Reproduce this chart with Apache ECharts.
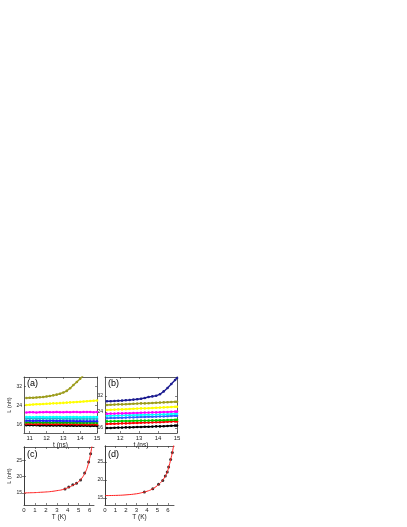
<!DOCTYPE html>
<html><head><meta charset="utf-8">
<script src="https://cdn.jsdelivr.net/npm/echarts@6/dist/echarts.min.js"></script>
<style>html,body{margin:0;padding:0;background:#fff}#c{width:407px;height:527px}</style>
</head><body><div id="c"></div>
<script>
// ---- data ----
const tA = [10.8,11.0,11.2,11.4,11.6,11.8,12.0,12.2,12.4,12.6,12.8,13.0,13.2,13.4,13.6,13.8,14.0,14.2,14.4,14.6,14.8,15.0];
const aOlive   = [27.2,27.3,27.3,27.4,27.5,27.6,27.8,28.0,28.3,28.6,29.0,29.5,30.2,31.3,32.7,34.0,35.4,36.9];
const aYellow  = [24.2,24.3,24.4,24.5,24.5,24.6,24.7,24.8,24.9,24.9,25.0,25.1,25.2,25.3,25.4,25.5,25.6,25.7,25.8,25.9,26.0,26.1];
const aMagenta = [21.0,21.1,21.1,21.0,21.1,21.1,21.2,21.1,21.1,21.2,21.1,21.1,21.2,21.1,21.2,21.2,21.1,21.2,21.2,21.2,21.1,21.2];
const aCyan    = [19.1,19.1,19.0,19.1,19.1,19.1,19.0,19.1,19.1,19.1,19.1,19.0,19.1,19.1,19.1,19.1,19.0,19.1,19.1,19.1,19.1,19.1];
const aTeal    = [18.4,18.4,18.4,18.3,18.4,18.4,18.4,18.3,18.4,18.4,18.4,18.3,18.4,18.3,18.3,18.4,18.3,18.3,18.3,18.3,18.3,18.3];
const aBlue    = [17.5,17.5,17.4,17.5,17.5,17.5,17.4,17.5,17.5,17.4,17.5,17.4,17.4,17.4,17.4,17.3,17.4,17.3,17.3,17.3,17.3,17.3];
const aGreen   = [16.8,16.8,16.7,16.8,16.8,16.7,16.8,16.7,16.7,16.8,16.7,16.7,16.7,16.7,16.6,16.7,16.6,16.6,16.6,16.6,16.6,16.6];
const aRed     = [16.1,16.1,16.1,16.0,16.1,16.1,16.0,16.1,16.0,16.0,16.1,16.0,16.0,16.0,16.0,15.9,16.0,15.9,15.9,15.9,15.9,15.9];
const aBlack   = [15.6,15.6,15.6,15.6,15.5,15.6,15.5,15.5,15.5,15.5,15.5,15.5,15.4,15.5,15.4,15.4,15.4,15.4,15.4,15.3,15.4,15.3];

const tB = [11.3,11.5,11.7,11.9,12.1,12.3,12.5,12.7,12.9,13.1,13.3,13.5,13.7,13.9,14.1,14.3,14.5,14.7,14.9,15.0];
const bNavy    = [29.4,29.4,29.5,29.6,29.7,29.9,30.0,30.2,30.4,30.6,31.0,31.5,31.8,32.1,32.9,34.3,36.0,38.0,40.0,41.0];
const bOlive   = [27.5,27.6,27.7,27.8,27.8,27.9,28.0,28.1,28.2,28.3,28.3,28.4,28.5,28.6,28.7,28.8,28.9,29.0,29.1,29.1];
const bYellow  = [25.0,25.1,25.2,25.3,25.3,25.4,25.5,25.6,25.7,25.8,25.8,25.9,26.0,26.1,26.2,26.3,26.4,26.5,26.6,26.6];
const bMagenta = [23.1,23.2,23.2,23.3,23.3,23.4,23.4,23.5,23.5,23.6,23.7,23.7,23.8,23.8,23.9,24.0,24.0,24.1,24.2,24.2];
const bCyan    = [22.1,22.1,22.2,22.2,22.3,22.3,22.4,22.4,22.5,22.5,22.6,22.6,22.7,22.7,22.8,22.8,22.9,23.0,23.1,23.1];
const bBlue    = [20.9,21.0,21.0,21.1,21.1,21.2,21.3,21.3,21.4,21.5,21.5,21.6,21.6,21.7,21.8,21.8,21.9,22.0,22.1,22.1];
const bGreen   = [19.3,19.3,19.4,19.4,19.5,19.5,19.5,19.6,19.6,19.7,19.7,19.7,19.8,19.8,19.9,19.9,20.0,20.0,20.1,20.1];
const bRed     = [18.0,18.1,18.1,18.2,18.3,18.3,18.4,18.5,18.5,18.6,18.7,18.7,18.8,18.9,18.9,19.0,19.1,19.2,19.3,19.3];
const bBlack   = [16.0,16.0,16.1,16.2,16.2,16.3,16.3,16.4,16.5,16.5,16.6,16.6,16.7,16.8,16.8,16.9,17.0,17.1,17.2,17.2];

const cCurveT = [0,0.5,1,1.5,2,2.5,3,3.5,4,4.5,5,5.3,5.6,5.8,6.0,6.1,6.2,6.3];
const cCurveL = [15.0,15.05,15.1,15.2,15.3,15.45,15.7,16.0,16.6,17.4,18.5,19.6,21.3,23.0,25.6,27.2,29.2,31.5];
const cPtsT = [3.75,4.09,4.46,4.8,5.17,5.54,5.91,6.09];
const cPtsL = [16.2,16.8,17.5,18.0,19.0,21.1,24.5,27.0];

const dCurveT = [0,1,2,3,3.5,4,4.5,5,5.3,5.6,5.9,6.1,6.3,6.45,6.6];
const dCurveL = [15.7,15.75,15.9,16.2,16.5,16.9,17.5,18.5,19.3,20.4,22.0,23.9,26.2,28.2,30.6];
const dPtsT = [3.75,4.55,5.1,5.5,5.74,5.93,6.06,6.25,6.41];
const dPtsL = [16.7,17.6,18.8,19.9,21.1,22.2,23.6,25.7,27.6];

const xTicksA = [11,12,13,14,15];
const xTicksB = [12,13,14,15];
const yTicksAB = [16,24,32];
const xTicksCD = [0,1,2,3,4,5,6];
const yTicksCD = [15,20,25];

// ---- build ----
const FONT = 'Liberation Sans, Arial, sans-serif';
const zip = (xs, ys) => ys.map((y, i) => [xs[i], y]);
const grids = [
  {left:24, top:377, width:73, height:56},
  {left:105, top:377, width:72, height:56},
  {left:24, top:447, width:70, height:58},
  {left:105, top:446, width:69, height:59}
];
const axCol = '#333';
const onlyTicks = ticks => v => (ticks.some(t => Math.abs(t - v) < 1e-6) ? String(v) : '');
function xAx(gi, min, max, ticks, name) {
  return [{
    type:'value', gridIndex:gi, min, max, position:'bottom',
    splitLine:{show:false},
    axisLine:{lineStyle:{color:axCol, width:0.8}},
    axisTick:{inside:true, length:2, customValues:ticks, lineStyle:{color:axCol, width:0.6}},
    axisLabel:{customValues:ticks, formatter:onlyTicks(ticks), showMinLabel:true, showMaxLabel:true,
      fontSize:6, color:'#222', margin:2, fontFamily:FONT},
    name, nameLocation:'middle', nameGap:9, nameTextStyle:{fontSize:6.5, color:'#222', fontFamily:FONT}
  },{
    type:'value', gridIndex:gi, min, max, position:'top',
    splitLine:{show:false},
    axisLine:{lineStyle:{color:axCol, width:0.8}},
    axisTick:{inside:true, length:2, customValues:ticks, lineStyle:{color:axCol, width:0.6}},
    axisLabel:{show:false}
  }];
}
function yAx(gi, min, max, ticks, name) {
  return [{
    type:'value', gridIndex:gi, min, max, position:'left',
    splitLine:{show:false},
    axisLine:{show:true, lineStyle:{color:axCol, width:0.8}},
    axisTick:{show:true, inside:true, length:2, customValues:ticks, lineStyle:{color:axCol, width:0.6}},
    axisLabel:{customValues:ticks, formatter:onlyTicks(ticks), fontSize:5, color:'#222', margin:2, fontFamily:FONT},
    name, nameLocation:'middle', nameGap:10, nameRotate:90, nameTextStyle:{fontSize:5.5, color:'#222', fontFamily:FONT}
  },{
    type:'value', gridIndex:gi, min, max, position:'right',
    splitLine:{show:false},
    axisLine:{show:true, lineStyle:{color:axCol, width:0.8}},
    axisTick:{show:true, inside:true, length:2, customValues:ticks, lineStyle:{color:axCol, width:0.6}},
    axisLabel:{show:false}
  }];
}
const xAxis = [].concat(
  xAx(0, 10.66, 15, xTicksA, 't (ns)'),
  xAx(1, 11.2, 15, xTicksB, 't (ns)'),
  xAx(2, 0, 6.4, xTicksCD, 'T (K)'),
  xAx(3, 0, 6.57, xTicksCD, 'T (K)')
);
const yAxis = [].concat(
  yAx(0, 12.3, 36.1, yTicksAB, 'L (nH)'),
  yAx(1, 13.5, 41.5, yTicksAB, ''),
  yAx(2, 11.3, 29.1, yTicksCD, 'L (nH)'),
  yAx(3, 13.1, 29.4, yTicksCD, '')
);
function dotLine(gi, xs, ys, color) {
  return {
    type:'line', xAxisIndex:gi*2, yAxisIndex:gi*2, data:zip(xs, ys),
    showSymbol:true, symbol:'circle', symbolSize:2.6, clip:true,
    itemStyle:{color}, lineStyle:{color, width:1.4}, animation:false, silent:true
  };
}
const series = [
  dotLine(0, tA, aBlack, '#000000'),
  dotLine(0, tA, aRed, '#ff0000'),
  dotLine(0, tA, aGreen, '#00bb00'),
  dotLine(0, tA, aBlue, '#2020ff'),
  dotLine(0, tA, aTeal, '#20b0d0'),
  dotLine(0, tA, aCyan, '#00ffff'),
  dotLine(0, tA, aMagenta, '#ff00ff'),
  dotLine(0, tA, aYellow, '#ffff00'),
  dotLine(0, tA, aOlive, '#9c9c1c'),
  dotLine(1, tB, bBlack, '#000000'),
  dotLine(1, tB, bRed, '#ff0000'),
  dotLine(1, tB, bGreen, '#00cc00'),
  dotLine(1, tB, bBlue, '#3060ff'),
  dotLine(1, tB, bCyan, '#00ffff'),
  dotLine(1, tB, bMagenta, '#ff00ff'),
  dotLine(1, tB, bYellow, '#ffff00'),
  dotLine(1, tB, bOlive, '#9c9c1c'),
  dotLine(1, tB, bNavy, '#1c1c90'),
  {type:'line', xAxisIndex:4, yAxisIndex:4, data:zip(cCurveT, cCurveL), smooth:true, showSymbol:false,
   lineStyle:{color:'#ff2020', width:1}, clip:true, animation:false, silent:true},
  {type:'scatter', xAxisIndex:4, yAxisIndex:4, data:zip(cPtsT, cPtsL), symbol:'circle', symbolSize:3,
   itemStyle:{color:'#000'}, animation:false, silent:true},
  {type:'line', xAxisIndex:6, yAxisIndex:6, data:zip(dCurveT, dCurveL), smooth:true, showSymbol:false,
   lineStyle:{color:'#ff2020', width:1}, clip:true, animation:false, silent:true},
  {type:'scatter', xAxisIndex:6, yAxisIndex:6, data:zip(dPtsT, dPtsL), symbol:'circle', symbolSize:3,
   itemStyle:{color:'#000'}, animation:false, silent:true}
];
const panelLabel = (text, left, top) => ({text, left, top, textStyle:{fontSize:9, fontWeight:'normal', color:'#000', fontFamily:FONT}, padding:0});
const chart = echarts.init(document.getElementById('c'), null, {renderer:'canvas'});
chart.setOption({
  animation:false,
  backgroundColor:'#fff',
  title:[panelLabel('(a)',27,379), panelLabel('(b)',108,379), panelLabel('(c)',27,450), panelLabel('(d)',108,450)],
  grid:grids,
  xAxis, yAxis, series
});
</script></body></html>
